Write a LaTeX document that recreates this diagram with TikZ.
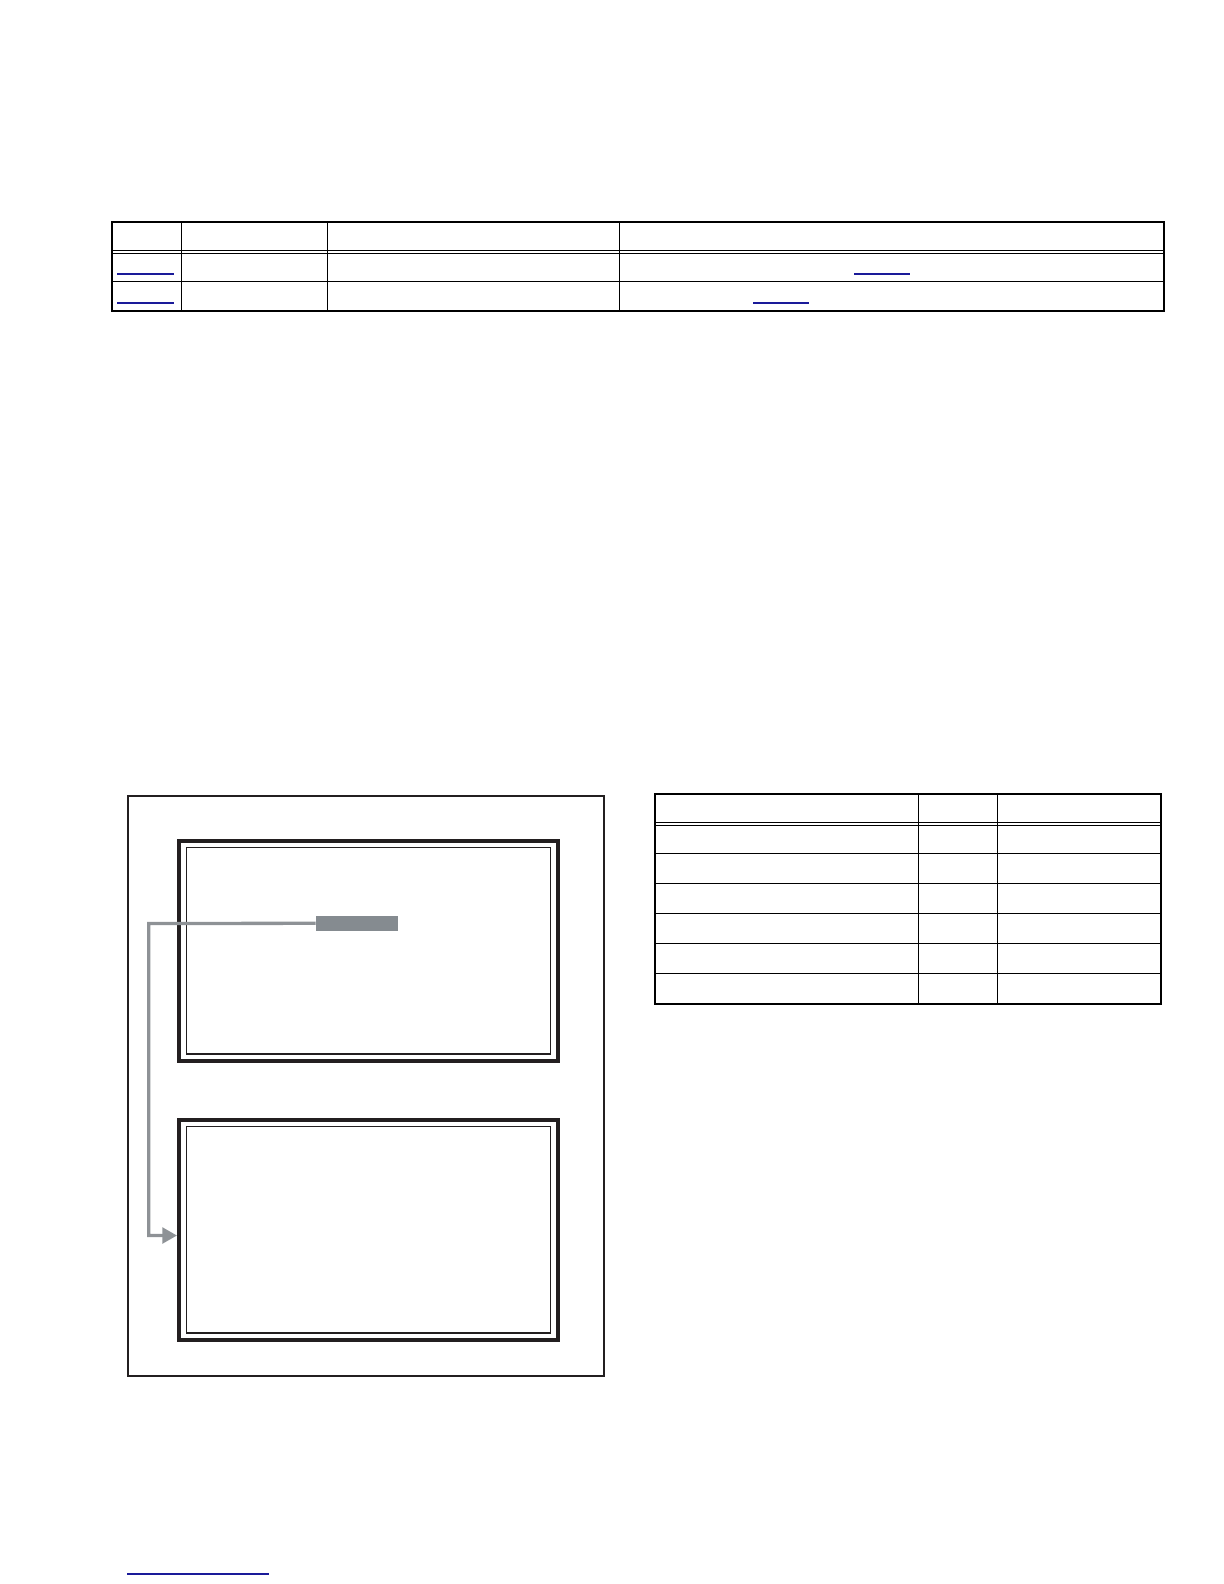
\documentclass[tikz,border=0pt]{standalone}
\usetikzlibrary{arrows.meta}
\definecolor{framec}{HTML}{231F20}
\definecolor{connc}{HTML}{8E9296}
\definecolor{tagc}{HTML}{858B90}
\definecolor{linkc}{HTML}{1A1A99}
\begin{document}
\begin{tikzpicture}[x=0.5pt,y=-0.5pt,
  tbout/.style={line width=1pt,black},
  tbin/.style={line width=0.5pt,black},
  linkline/.style={line width=0.65pt,linkc},
  outerbox/.style={line width=0.85pt,framec},
  panel/.style={draw=framec,line width=2pt,minimum width=189.5pt,minimum height=109.7pt,inner sep=0pt},
  innerframe/.style={line width=0.65pt,framec},
  tagbox/.style={fill=tagc,minimum width=41pt,minimum height=7.35pt,inner sep=0pt},
  connline/.style={connc,line width=1.65pt,-{Triangle[length=7.3pt,width=7.8pt]}}]
\useasboundingbox (0,0) rectangle (1224,1584);

% ---- top table ----
\draw[tbout] (112,222) rectangle (1164,311);
\draw[tbin] (112,250.5) -- (1164,250.5);
\draw[tbin] (112,253.5) -- (1164,253.5);
\draw[tbin] (112,281.5) -- (1164,281.5);
\foreach \cx in {181,327,619} \draw[tbin] (\cx,222) -- (\cx,311);
\draw[linkline] (117,274) -- (174,274);
\draw[linkline] (117,303) -- (174,303);
\draw[linkline] (854,274) -- (910,274);
\draw[linkline] (753,303) -- (809,303);

% ---- left figure ----
\draw[outerbox] (128.3,795.7) rectangle (604,1376);
\node[panel] (topp) at (368.5,950.8) {};
\node[panel] (botp) at (368.5,1229.9) {};
\draw[innerframe] ([shift={(9.7,8.4)}]topp.north west) rectangle ([shift={(-9.7,-8.4)}]topp.south east);
\draw[innerframe] ([shift={(9.7,8.6)}]botp.north west) rectangle ([shift={(-9.7,-8.6)}]botp.south east);
\node[tagbox] (tag) at (357,923.3) {};
\coordinate (bend) at (148.7,923.5);
\draw[connline] (tag.west) -- (bend) |- ([yshift=-2.8pt]botp.west);

% ---- right table ----
\draw[tbout] (655,794) rectangle (1161,1003.7);
\draw[tbin] (655,822.7) -- (1161,822.7);
\draw[tbin] (655,825.3) -- (1161,825.3);
\foreach \ry in {853.7,883.3,913.3,943.3,973.3} \draw[tbin] (655,\ry) -- (1161,\ry);
\foreach \cx in {918.3,997.3} \draw[tbin] (\cx,794) -- (\cx,1003.7);

% ---- bottom link ----
\draw[linkline] (127,1574) -- (269,1574);
\end{tikzpicture}
\end{document}
